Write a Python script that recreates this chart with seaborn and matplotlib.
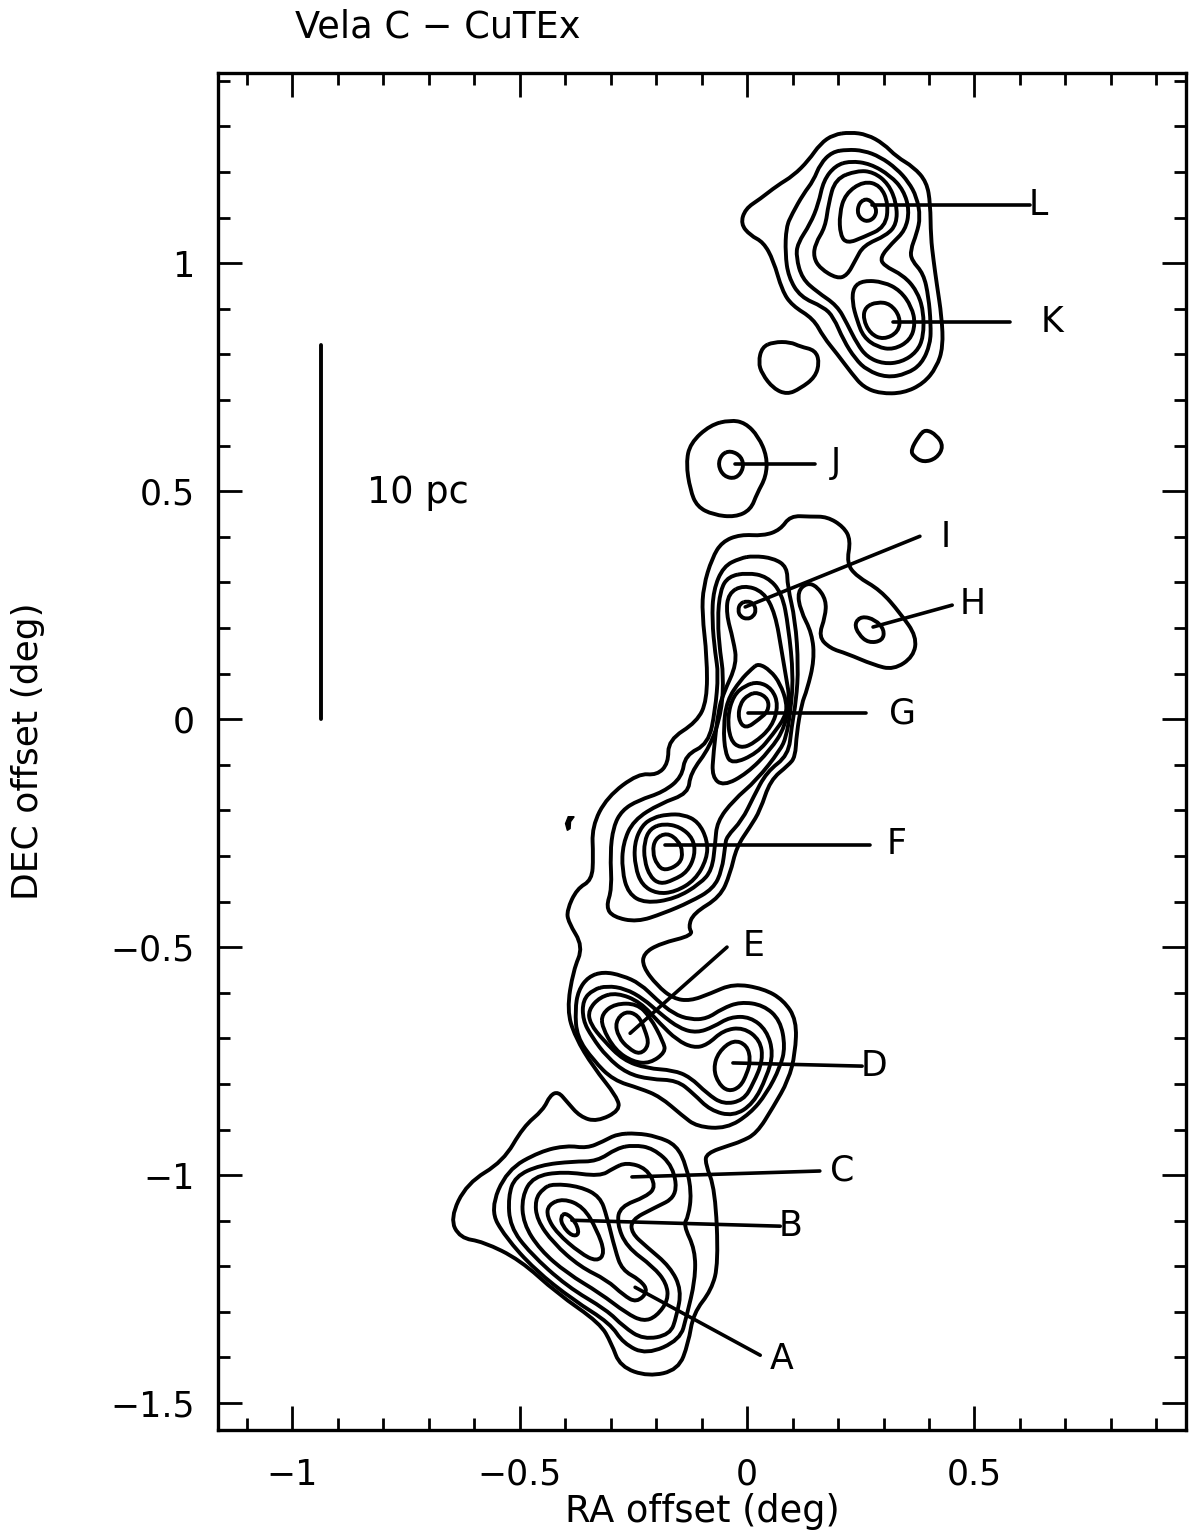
import numpy as np
import pandas as pd
import matplotlib
matplotlib.use("Agg")
import matplotlib.pyplot as plt
from matplotlib.path import Path
from matplotlib.patches import PathPatch
from matplotlib.ticker import MultipleLocator
import seaborn as sns

# --------------------------------------------
# Contours (milli-degrees)
# --------------------------------------------
L1_ra = [227,264,300,329,366,395,403,404,410,417,428,431,417,388,344,293,256,231,198,168,146,99,77,58,36,7,-14,-4,29,66,102,135,161,190]
L1_dec = [1287,1282,1262,1233,1211,1178,1130,1057,1006,955,882,816,772,736,715,714,728,757,801,838,878,907,940,1006,1046,1061,1086,1119,1141,1170,1192,1225,1262,1282]
L2_ra = [220,256,293,329,355,373,381,373,359,362,388,399,404,403,384,351,307,264,238,212,190,168,117,91,84,86,99,124,146,161,187]
L2_dec = [1249,1247,1233,1207,1178,1145,1101,1065,1028,1006,977,926,867,823,779,757,749,765,790,831,882,904,926,970,1021,1079,1108,1152,1181,1218,1244]
L3_ra = [227,271,315,344,357,348,318,293,300,344,373,388,388,373,340,300,264,242,220,198,154,121,108,111,139,157,168,194]
L3_dec = [1224,1218,1192,1160,1116,1072,1043,1013,995,973,940,896,838,805,783,779,794,823,867,907,937,966,1013,1043,1086,1130,1181,1214]
L4_ra = [242,278,311,329,329,307,256,238,220,198,161,146,150,172,179,194]
L4_dec = [1203,1200,1174,1130,1086,1061,1039,1006,973,966,988,1013,1043,1079,1130,1185]
L5_ra = [256,293,311,304,256,220,205,203,216]
L5_dec = [1180,1171,1130,1079,1057,1043,1061,1108,1152]
L6_ra = [266,286,280,260,242,246]
L6_dec = [1143,1120,1098,1090,1106,1133]
K1_ra = [256,300,337,362,370,359,322,286,256,242,231,234]
K1_dec = [962,959,940,904,867,831,810,816,838,874,915,948]
K2_ra = [286,315,337,333,300,271,255,260]
K2_dec = [915,911,882,849,832,845,878,904]
blob1_ra = [58,95,117,150,159,150,117,88,58,33,25,33]
blob1_dec = [827,827,817,809,783,750,725,712,725,757,783,816]
J1_ra = [-37,-4,25,44,42,22,8,-26,-74,-110,-125,-134,-125,-81]
J1_dec = [656,650,620,576,532,495,459,443,448,466,503,561,605,645]
J2_ra = [-36,-12,-7,-24,-51,-64,-56]
J2_dec = [589,576,550,527,532,557,581]
blob2_ra = [392,417,432,417,388,366,360,377]
blob2_dec = [636,623,598,572,563,576,590,620]
H1_ra = [252,282,302,298,267,245,236]
H1_dec = [226,218,196,172,167,186,210]
I1_ra = [0,14,20,14,0,-15,-20,-15]
I1_dec = [259,254,239,225,219,225,239,254]

# the outer contour runs the whole length of the ridge
outer_ra = [95,139,176,212,228,219,241,293,337,373,366,322,278,219,183,157,172,174,154,132,111,117,143,148,132,120,109,106,91,51,29,7,-23,-37,-59,-118,-129,-118,-191,-228,-229,-198,-162,-125,-81,-30,36,80,109,106,91,58,21,-15,-37,-89,-92,-70,-63,-78,-118,-129,-151,-217,-279,-298,-323,-418,-499,-580,-631,-653,-616,-536,-492,-448,-433,-415,-396,-367,-330,-279,-286,-338,-378,-396,-382,-360,-393,-396,-374,-341,-338,-341,-308,-239,-198,-173,-173,-110,-88,-88,-99,-96,-77,-55,-15,36,73]
outer_dec = [446,444,444,422,393,342,313,283,232,181,137,108,119,144,155,181,225,261,291,299,280,239,188,130,64,34,-32,-83,-101,-134,-200,-236,-280,-339,-390,-426,-456,-474,-492,-514,-543,-584,-613,-618,-602,-580,-591,-616,-660,-733,-792,-850,-909,-927,-934,-952,-974,-1032,-1193,-1252,-1303,-1369,-1427,-1442,-1420,-1369,-1325,-1259,-1186,-1146,-1138,-1095,-1018,-970,-894,-857,-825,-817,-839,-872,-883,-858,-828,-763,-697,-638,-551,-499,-445,-419,-372,-353,-302,-236,-171,-119,-123,-97,-46,-6,41,136,232,291,353,389,405,402,415]

N2_ra = [14,58,88,89,106,113,108,98,91,43,14,-11,-45,-48,-55,-74,-125,-184,-242,-294,-310,-297,-301,-294,-275,-239,-184,-143,-136,-85,-70,-63,-70,-77,-74,-52,-15]
N2_dec = [358,353,334,291,218,115,41,-17,-79,-116,-171,-222,-258,-277,-331,-372,-401,-426,-445,-434,-412,-372,-295,-236,-200,-178,-160,-127,-79,-54,19,100,144,217,283,335,353]
N3_ra = [0,44,77,91,102,95,86,73,21,-30,-66,-70,-77,-103,-158,-224,-261,-275,-273,-250,-191,-129,-125,-81,-55,-52,-59,-65,-59,-41]
N3_dec = [321,313,276,203,93,13,-39,-68,-134,-178,-225,-273,-331,-361,-394,-404,-383,-331,-273,-222,-185,-163,-119,-61,19,100,144,217,283,313]
N4_ra = [-8,36,62,77,88,93,84,51,0,-52,-77,-74,-63,-52,-22,-30,-46,-41]
N4_dec = [294,280,232,144,79,49,-17,-68,-119,-147,-127,-75,20,56,122,173,232,276]
G1_ra = [25,51,73,88,84,58,22,-33,-48,-52,-44,-15,11]
G1_dec = [122,107,78,34,5,-32,-75,-99,-75,-17,41,85,111]
G2_ra = [25,55,69,55,14,-15,-37,-43,-30,-4]
G2_dec = [82,67,31,-17,-54,-64,-46,5,52,74]
G3_ra = [24,47,47,27,-4,-20,-15,3]
G3_dec = [59,44,18,0,-22,1,35,54]
F1_ra = [-176,-151,-141,-147,-180,-198,-208,-202]
F1_dec = [-249,-266,-291,-317,-333,-320,-291,-262]
F2_ra = [-184,-147,-118,-114,-131,-162,-191,-213,-226,-226,-213]
F2_dec = [-229,-236,-262,-298,-335,-353,-362,-346,-309,-269,-240]
F3_ra = [-176,-140,-107,-87,-88,-114,-158,-198,-231,-246,-248,-231,-206]
F3_dec = [-209,-209,-225,-266,-306,-353,-379,-383,-364,-324,-273,-233,-216]

P1_ra = [-316,-275,-235,-198,-162,-125,-88,-55,-15,36,73,84,73,43,7,-45,-110,-143,-191,-235,-294,-338,-374,-378,-371,-349]
P1_dec = [-554,-562,-580,-616,-646,-659,-657,-635,-620,-627,-660,-719,-763,-821,-865,-898,-894,-869,-828,-810,-792,-748,-697,-638,-595,-565]
P2_ra = [-308,-268,-228,-191,-147,-110,-74,-37,7,43,58,43,14,-30,-81,-118,-154,-213,-264,-308,-341,-361,-361,-338]
P2_dec = [-585,-591,-613,-646,-679,-688,-675,-653,-653,-682,-733,-785,-843,-871,-858,-821,-792,-790,-777,-741,-697,-660,-616,-593]
P3_ra = [-286,-235,-191,-154,-118,-88,-52,-8,29,35,14,-8,-52,-88,-125,-162,-220,-272,-316,-345,-349,-323]
P3_dec = [-600,-620,-668,-704,-721,-715,-682,-676,-704,-748,-799,-836,-845,-821,-785,-770,-766,-748,-704,-668,-638,-609]
E2_ra = [-319,-290,-242,-213,-184,-179,-213,-250,-290,-319]
E2_dec = [-646,-624,-624,-653,-708,-730,-755,-752,-726,-675]
E1_ra = [-268,-239,-224,-215,-235,-261,-283,-290]
E1_dec = [-640,-649,-682,-715,-736,-722,-697,-664]
D1_ra = [-30,0,8,0,-15,-41,-63,-74,-63]
D1_dec = [-703,-715,-748,-777,-807,-817,-799,-766,-730]

Q1_ra = [-243,-199,-155,-133,-122,-129,-140,-114,-114,-133,-147,-221,-272,-301,-382,-466,-532,-565,-528,-455,-396,-352,-316,-286]
Q1_dec = [-908,-915,-934,-981,-1040,-1091,-1109,-1164,-1230,-1310,-1361,-1394,-1369,-1325,-1274,-1208,-1135,-1076,-989,-948,-935,-941,-926,-910]
Q2_ra = [-250,-206,-162,-153,-206,-254,-254,-221,-169,-144,-155,-169,-228,-272,-308,-396,-477,-521,-525,-510,-455,-382,-330,-286]
Q2_dec = [-934,-941,-981,-1047,-1073,-1098,-1127,-1157,-1201,-1252,-1310,-1350,-1361,-1332,-1296,-1244,-1171,-1113,-1047,-1003,-978,-970,-970,-941]
Q3_ra = [-265,-221,-200,-221,-279,-286,-265,-206,-177,-173,-199,-228,-265,-323,-396,-455,-492,-495,-470,-404,-323,-294]
Q3_dec = [-972,-985,-1025,-1047,-1069,-1106,-1157,-1201,-1237,-1274,-1310,-1321,-1303,-1259,-1215,-1164,-1106,-1047,-1003,-992,-1003,-985]
Q4_ra = [-426,-367,-323,-308,-290,-275,-235,-217,-243,-272,-308,-367,-426,-462,-466,-448]
Q4_dec = [-1019,-1025,-1047,-1091,-1164,-1208,-1230,-1255,-1280,-1263,-1230,-1201,-1149,-1098,-1054,-1029]
Q5_ra = [-404,-360,-330,-312,-330,-367,-418,-440,-437]
Q5_dec = [-1051,-1069,-1120,-1171,-1190,-1171,-1127,-1091,-1065]
Q6_ra = [-400,-378,-368,-385,-406,-410]
Q6_dec = [-1082,-1100,-1130,-1134,-1111,-1092]

speck_ra = [-380,-393,-399,-395,-389,-388]
speck_dec = [-214,-214,-229,-244,-240,-225]

contours = [
    (L1_ra, L1_dec), (L2_ra, L2_dec), (L3_ra, L3_dec), (L4_ra, L4_dec), (L5_ra, L5_dec), (L6_ra, L6_dec),
    (K1_ra, K1_dec), (K2_ra, K2_dec), (blob1_ra, blob1_dec), (J1_ra, J1_dec), (J2_ra, J2_dec),
    (blob2_ra, blob2_dec), (H1_ra, H1_dec), (I1_ra, I1_dec), (outer_ra, outer_dec),
    (N2_ra, N2_dec), (N3_ra, N3_dec), (N4_ra, N4_dec), (G1_ra, G1_dec), (G2_ra, G2_dec), (G3_ra, G3_dec),
    (F1_ra, F1_dec), (F2_ra, F2_dec), (F3_ra, F3_dec), (P1_ra, P1_dec), (P2_ra, P2_dec), (P3_ra, P3_dec),
    (E2_ra, E2_dec), (E1_ra, E1_dec), (D1_ra, D1_dec), (Q1_ra, Q1_dec), (Q2_ra, Q2_dec), (Q3_ra, Q3_dec),
    (Q4_ra, Q4_dec), (Q5_ra, Q5_dec), (Q6_ra, Q6_dec),
]

# --------------------------------------------
# Clump labels and their leader lines
# --------------------------------------------
clump_names = ["L", "K", "J", "I", "H", "G", "F", "E", "D", "C", "B", "A"]
leader_ra_start = [275, 321, -26, -4, 277, 2, -180, -257, -31, -253, -385, -246]
leader_ra_end = [622, 578, 149, 380, 451, 262, 270, -44, 253, 160, 73, 29]
leader_dec_start = [1127, 871, 559, 246, 202, 13, -276, -689, -754, -1004, -1099, -1246]
leader_dec_end = [1127, 871, 559, 401, 250, 13, -276, -500, -761, -991, -1112, -1395]
label_ra = [640, 671, 195, 437, 497, 342, 329, 15, 279, 209, 95, 75]
label_dec = [1127, 871, 561, 399, 252, 13, -274, -498, -761, -989, -1112, -1404]

scale_ra = [-936, -936]
scale_dec = [820, 0]

x_ticks = [-1, -0.5, 0, 0.5]
x_tick_labels = ["\u22121", "\u22120.5", "0", "0.5"]
y_ticks = [-1.5, -1, -0.5, 0, 0.5, 1]
y_tick_labels = ["\u22121.5", "\u22121", "\u22120.5", "0", "0.5", "1"]

sns.set_theme(style="white")
plt.rcParams['font.family'] = ['DejaVu Sans']

# --------------------------------------------
# Long tables
# --------------------------------------------
rows = []
for i, (ra, dec) in enumerate(contours):
    for r, d in zip(ra, dec):
        rows.append({"contour": i, "ra": r / 1000, "dec": d / 1000})
df = pd.DataFrame(rows)

leader_rows = []
for i, name in enumerate(clump_names):
    leader_rows.append({"clump": name, "ra": leader_ra_start[i] / 1000, "dec": leader_dec_start[i] / 1000})
    leader_rows.append({"clump": name, "ra": leader_ra_end[i] / 1000, "dec": leader_dec_end[i] / 1000})
leaders = pd.DataFrame(leader_rows)

fig = plt.figure(figsize=(12, 15.4), dpi=100)
ax = fig.add_axes([218 / 1200, 1 - 1430 / 1540, (1186 - 218) / 1200, (1430 - 73) / 1540])


# read vertices act as the control points of a closed curve
def closed_curve(ra, dec):
    pts = np.column_stack([ra, dec])
    mids = (pts + np.roll(pts, -1, axis=0)) / 2
    verts = [mids[-1]]
    codes = [Path.MOVETO]
    for p, m in zip(pts, mids):
        verts += [p, m]
        codes += [Path.CURVE3, Path.CURVE3]
    return Path(verts, codes)


for _, group in df.groupby("contour"):
    ax.add_patch(PathPatch(closed_curve(group["ra"].values, group["dec"].values),
                           facecolor="none", edgecolor="black", linewidth=2.8, joinstyle="round"))
ax.fill(np.array(speck_ra) / 1000, np.array(speck_dec) / 1000, color="black", lw=1)

sns.lineplot(data=leaders, x="ra", y="dec", units="clump", estimator=None, sort=False,
             color="black", linewidth=2.6, ax=ax)
for i, name in enumerate(clump_names):
    ax.text(label_ra[i] / 1000, label_dec[i] / 1000, name, fontsize=25, ha="center", va="center", color="black")

ax.plot(np.array(scale_ra) / 1000, np.array(scale_dec) / 1000, color="black", lw=2.8)
ax.text(-0.723, 0.496, "10 pc", fontsize=26.5, ha="center", va="center", color="black")

# --------------------------------------------
# Axes
# --------------------------------------------
ax.set_xlim(-1.163, 0.965)
ax.set_ylim(-1.559, 1.417)
ax.set_xticks(x_ticks)
ax.set_xticklabels(x_tick_labels)
ax.set_yticks(y_ticks)
ax.set_yticklabels(y_tick_labels)
ax.xaxis.set_minor_locator(MultipleLocator(0.1))
ax.yaxis.set_minor_locator(MultipleLocator(0.1))
ax.tick_params(which="major", direction="in", top=True, right=True, bottom=True, left=True,
               length=17, width=2, labelsize=25, colors="black")
ax.tick_params(which="minor", direction="in", top=True, right=True, bottom=True, left=True,
               length=8.5, width=2, colors="black")
ax.tick_params(axis="x", which="major", pad=20)
ax.tick_params(axis="y", which="major", pad=17)
for side in ax.spines.values():
    side.set_linewidth(2.4)
    side.set_color("black")

ax.set_xlabel("RA offset (deg)", fontsize=26.5, color="black")
ax.set_ylabel("DEC offset (deg)", fontsize=26, color="black")
ax.xaxis.set_label_coords(0.5, -0.0597)
ax.yaxis.set_label_coords(-0.196, 0.5)
ax.xaxis.label.set_va("center")
ax.yaxis.label.set_va("center")
fig.text(295 / 1200, 1 - 27 / 1540, "Vela C \u2212 CuTEx", fontsize=26.5, ha="left", va="center", color="black")

fig.savefig("out.png", dpi=100, facecolor="white")
